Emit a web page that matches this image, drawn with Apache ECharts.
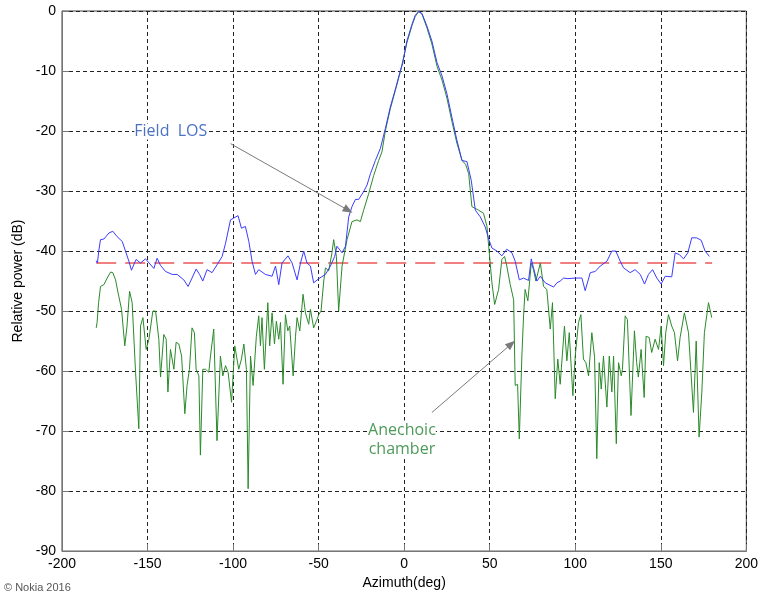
<!DOCTYPE html>
<html>
<head>
<meta charset="utf-8">
<script src="https://cdn.jsdelivr.net/npm/echarts@6/dist/echarts.min.js"></script>
<style>
html,body{margin:0;padding:0;background:#fff}
#main{width:761px;height:595px}
</style>
</head>
<body>
<div id="main"></div>
<script>
// azimuth ticks
var xTicks = [-200, -150, -100, -50, 0, 50, 100, 150, 200]
var yTicks = [-90, -80, -70, -60, -50, -40, -30, -20, -10, 0]

// Field LOS  [azimuth, dB]
var fieldLos = [[-180,-41.6],[-179.3,-42],[-178.5,-40],[-177.5,-38.1],[-175.5,-38],[-172.6,-37],[-170.3,-36.7],[-167.8,-37.6],[-164.8,-38.4],[-162.9,-40],[-160.9,-41.7],[-159.4,-43.2],[-156.7,-41.4],[-154.1,-42],[-151.2,-41.3],[-146.3,-42.9],[-144.4,-41.2],[-142.4,-42.4],[-139.5,-43.4],[-135.6,-43.9],[-132.7,-43.9],[-128.8,-44.8],[-126.3,-45.9],[-124,-44.5],[-121.6,-43],[-119.6,-43.9],[-117.7,-45],[-115.2,-43.1],[-112.3,-43.6],[-109.4,-42.3],[-106.4,-40.9],[-104.4,-38.7],[-101.5,-34.8],[-99.6,-34.5],[-97.1,-34.1],[-95.1,-36.2],[-92.8,-35.9],[-90.8,-38.4],[-88.9,-41.7],[-86.9,-43.9],[-85,-43.1],[-81.1,-43.9],[-77.2,-44.2],[-75.2,-42.5],[-73.3,-45.6],[-71.4,-42],[-67.9,-40.8],[-65.5,-42],[-62.6,-44.8],[-60.6,-42],[-58.7,-40],[-56.8,-42],[-54.8,-42.5],[-52.9,-45.3],[-49.9,-44.6],[-46,-43.9],[-43.1,-42.5],[-40.6,-40.9],[-39.3,-39.2],[-36.3,-40.3],[-34.3,-39.2],[-32.4,-34.3],[-30.5,-32.6],[-28.5,-31.4],[-26.6,-31.4],[-23.7,-30.1],[-21.7,-29],[-19.7,-27.1],[-16.8,-24.9],[-13.9,-22.9],[-11,-19.6],[-8.1,-16],[-5.1,-13],[-2.2,-9.9],[-0.9,-8.8],[1.6,-5],[4.6,-2.2],[6.5,-0.7],[8.5,-0.1],[10.4,-0.4],[13.3,-2.5],[16.2,-5],[19.2,-8.6],[22.1,-10.8],[25,-13.8],[27.9,-17.7],[30.8,-21.5],[33.8,-24.9],[36.7,-25.1],[39.2,-28.2],[41.6,-33.2],[44.5,-34.3],[47.4,-36],[49.4,-38],[51.3,-39.5],[54.2,-40],[57.1,-40.8],[60,-39.7],[63,-40.3],[64.9,-41.7],[67.3,-44.8],[69.8,-44.5],[72.7,-44.9],[74.3,-41.3],[75.6,-42.8],[77.6,-45],[79.6,-44.2],[82.5,-45.3],[87.3,-46],[89.3,-45.3],[91.2,-45],[93.2,-44.5],[95.7,-44.6],[100,-44.5],[103.9,-44.5],[105.8,-46.6],[108.8,-43.6],[111.7,-43.4],[114.6,-42.5],[118.5,-41.7],[121.4,-40],[123.7,-40],[126.3,-41.7],[128.2,-42.8],[132.1,-43.6],[135,-43.1],[138,-43.9],[140.5,-45.5],[142.8,-43.9],[145.2,-43.1],[147.7,-44.5],[150.2,-45.5],[152.6,-44.2],[156.4,-44.3],[158.4,-40.3],[160.9,-40.6],[163.3,-41.3],[165.8,-40.3],[168.1,-37.8],[171,-37.8],[173.6,-38.2],[175.9,-40],[178.4,-40.9]]

// Anechoic chamber  [azimuth, dB]
var anechoic = [[-180,-52.8],[-179.5,-51.9],[-178.6,-48.6],[-177.5,-45.9],[-175.5,-45.6],[-173.6,-44.5],[-171.6,-43.5],[-170.3,-43.6],[-168.7,-44.8],[-167.2,-47],[-165.2,-49.7],[-163.3,-55.8],[-162,-52.5],[-160.5,-46.7],[-159,-48.6],[-157,-60.2],[-155.1,-69.6],[-154.1,-52.5],[-152.7,-51.1],[-150.8,-56.4],[-149.2,-54.7],[-146.9,-50],[-145.3,-50],[-143.4,-54.7],[-142.4,-61],[-140.5,-53.9],[-139.1,-54.7],[-138.1,-63.5],[-136.6,-56.4],[-134.6,-59.7],[-133.3,-55.2],[-131.7,-55.5],[-130.1,-57.5],[-128.2,-67.1],[-126.9,-62.4],[-125.5,-59.7],[-124,-52.8],[-122.6,-53.6],[-121.6,-59.7],[-120,-60.8],[-119.1,-74],[-117.7,-59.7],[-116.1,-59.7],[-114.2,-60.2],[-113.2,-57.5],[-111.3,-53],[-109.4,-71.6],[-107.4,-57.5],[-106,-60.8],[-104.4,-59.1],[-102.9,-60.2],[-100.9,-65.2],[-99,-55.8],[-96.7,-59.7],[-95.1,-58],[-93.7,-55.5],[-92.2,-59.7],[-91.2,-79.6],[-89.8,-57.5],[-88.3,-62.4],[-86.4,-54.2],[-85,-50.8],[-84,-55.8],[-83.1,-51.1],[-81.7,-59.7],[-79.7,-48.6],[-78.6,-55.8],[-77.2,-50.3],[-75.8,-55.5],[-74.7,-51.7],[-73.3,-54.7],[-72.3,-51.9],[-70.8,-62.2],[-69.4,-50.6],[-68,-53.3],[-66.9,-52.5],[-64.9,-60.8],[-63.5,-54.2],[-62.6,-51.1],[-61,-53.3],[-59.1,-47.2],[-57.7,-50.3],[-55.8,-52.2],[-54.8,-49.7],[-52.9,-52.8],[-51.3,-51.7],[-49.9,-50.6],[-48.6,-50],[-47,-45],[-46,-42.8],[-44.1,-43.3],[-42.2,-40.3],[-41.2,-38.1],[-39.6,-40.9],[-38.3,-50],[-36.3,-42.5],[-33.4,-38.1],[-30.5,-35.1],[-27.6,-34.8],[-25.6,-35.1],[-23.7,-33.2],[-20.7,-30.4],[-17.8,-27.4],[-14.9,-24.9],[-13,-23.5],[-11,-20],[-8.1,-16.3],[-5.1,-13.2],[-2.2,-10.1],[1.6,-5.3],[4.6,-2.4],[6.5,-0.9],[8.5,-0.1],[10.4,-0.5],[13.3,-2.8],[16.2,-5.5],[19.2,-9.2],[22.1,-11.5],[25,-14.5],[27.9,-18.4],[30.8,-22],[33.8,-24.9],[36,-25.6],[37.7,-27.1],[39.6,-32.6],[43.5,-33.2],[46.4,-33.7],[48.4,-35.9],[49.4,-39.2],[51.3,-45.3],[52.9,-48.9],[55.2,-46.4],[57.1,-41.4],[58.7,-40.9],[60,-42.5],[62,-45.6],[63,-45.9],[64,-48.1],[64.9,-62.4],[66.3,-62.2],[67.3,-71.3],[68.8,-57.5],[69.8,-50.8],[70.7,-46.4],[72.3,-48.3],[74.3,-42],[75.6,-43.1],[77,-45],[79.6,-42],[81.5,-45.9],[83.4,-46.4],[85.4,-53],[86.7,-48.6],[88.3,-64.6],[89.8,-58],[91.2,-62.2],[93.7,-52.5],[95.1,-58.3],[96.5,-53.6],[98.6,-64.1],[100,-57.5],[101.9,-51.9],[103.3,-50.6],[104.8,-58],[106.2,-58.6],[107.8,-60.8],[109.7,-53.6],[111.3,-57.7],[112.6,-74.6],[114,-58.6],[115.2,-63],[116.5,-57.5],[118.5,-66],[119.9,-57.5],[121.4,-63.5],[122.4,-57.5],[124,-72.1],[125.3,-58.6],[126.9,-60.8],[127.6,-59.7],[129.2,-50.8],[130.5,-51.4],[132.6,-67.4],[134.6,-53.3],[135.9,-58.6],[136.9,-61],[138.5,-56.4],[140.3,-64.4],[141.4,-54.2],[143.2,-54.4],[144.7,-56.9],[146.7,-54.7],[148.7,-56.4],[150.2,-52.5],[151.6,-59.1],[152.9,-53.6],[154.5,-50.6],[156.4,-52.5],[158,-53.6],[159.8,-58.3],[161.3,-54.4],[163.8,-50.3],[166.2,-53.6],[169.1,-66.9],[170.7,-55],[172.4,-71],[174,-63.5],[175.5,-53.6],[177.9,-48.6],[179.8,-51.1]]

// reference level (red dashed)
var refLevel = [[-180,-42],[180,-42]]

// annotations: label position and arrow [from, to] in data coords
var losLabel = [-136.4, -20.1]
var losArrow = [[-101.5, -22.1], [-32.7, -33.2]]
var chamberLabel = [-1.3, -71.4]
var chamberArrow = [[16.2, -66.9], [62.6, -55.5]]

var chart = echarts.init(document.getElementById('main'))
var labelFont = {fontFamily: 'Liberation Sans', fontSize: 14, color: '#000'}

var option = {
	animation: false,
	backgroundColor: '#fff',
	grid: {left: 62, right: 13, top: 11, bottom: 42, show: true, borderColor: '#444', borderWidth: 1},
	xAxis: {
		type: 'value', min: -200, max: 200, interval: 50,
		name: 'Azimuth(deg)', nameLocation: 'middle', nameGap: 22,
		nameTextStyle: labelFont,
		axisLine: {onZero: false, lineStyle: {color: '#777'}},
		axisTick: {inside: true, length: 7, lineStyle: {color: '#777'}},
		axisLabel: Object.assign({margin: 6}, labelFont),
		splitLine: {lineStyle: {color: '#222', type: [4, 3]}}
	},
	yAxis: {
		type: 'value', min: -90, max: 0, interval: 10,
		name: 'Relative power (dB)', nameLocation: 'middle', nameGap: 37,
		nameTextStyle: labelFont,
		axisLine: {onZero: false, lineStyle: {color: '#777'}},
		axisTick: {inside: true, length: 7, lineStyle: {color: '#777'}},
		axisLabel: Object.assign({margin: 6}, labelFont),
		splitLine: {lineStyle: {color: '#222', type: [4, 3]}}
	},
	series: [
		{
			type: 'line', name: 'ref', data: refLevel, showSymbol: false, silent: true,
			lineStyle: {color: '#F08080', width: 2, type: [20, 9]}, z: 1
		},
		{
			type: 'line', name: 'Field LOS', data: fieldLos, showSymbol: false,
			lineStyle: {color: '#3b3bff', width: 1}, z: 3
		},
		{
			type: 'line', name: 'Anechoic chamber', data: anechoic, showSymbol: false,
			lineStyle: {color: '#2a8a2a', width: 1}, z: 2,
			markLine: {
				silent: true, symbol: ['none', 'triangle'], symbolSize: [8, 10],
				label: {show: false},
				lineStyle: {color: '#7a7a7a', width: 1, type: 'solid'},
				data: [
					[{coord: losArrow[0]}, {coord: losArrow[1], itemStyle: {color: '#4a5060'}}],
					[{coord: chamberArrow[0]}, {coord: chamberArrow[1], itemStyle: {color: '#4a5060'}}]
				]
			}
		}
	]
}
chart.setOption(option)

var p1 = chart.convertToPixel({gridIndex: 0}, losLabel)
var p2 = chart.convertToPixel({gridIndex: 0}, chamberLabel)
chart.setOption({
	graphic: [
		{type: 'text', x: p1[0], y: p1[1], z: 10,
			style: {text: 'Field  LOS', fill: '#4a72c4', font: '16px "Open Sans"', align: 'center', verticalAlign: 'middle', backgroundColor: '#fff'}},
		{type: 'text', x: p2[0], y: p2[1], z: 10,
			style: {text: 'Anechoic\nchamber', fill: '#4e9a5a', font: '16px "Open Sans"', align: 'center', verticalAlign: 'middle', lineHeight: 19, backgroundColor: '#fff'}},
		{type: 'text', left: 4, bottom: 2,
			style: {text: '© Nokia 2016', fill: '#555', font: '11px "Liberation Sans"'}}
	]
})
</script>
</body>
</html>
